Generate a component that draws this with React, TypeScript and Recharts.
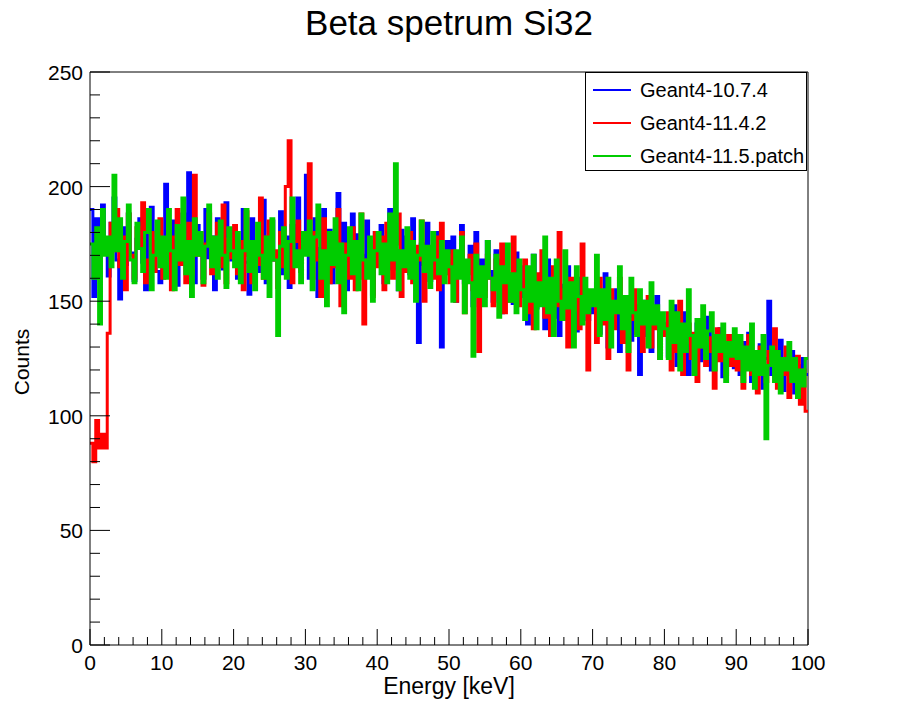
import { LineChart, Line, XAxis, YAxis, ReferenceLine } from 'recharts';

// 250 bins of 0.4 keV between 0 and 100 keV
const BIN_WIDTH = 0.4;

const SERIES_NAMES = ['Geant4-10.7.4', 'Geant4-11.4.2', 'Geant4-11.5.patch'];
const SERIES_COLORS = ['#0000ff', '#ff0000', '#00cc00'];

const X_TICKS = [0, 2, 4, 6, 8, 10, 12, 14, 16, 18, 20, 22, 24, 26, 28, 30, 32, 34, 36, 38, 40, 42, 44, 46, 48, 50, 52, 54, 56, 58, 60, 62, 64, 66, 68, 70, 72, 74, 76, 78, 80, 82, 84, 86, 88, 90, 92, 94, 96, 98, 100];
const Y_TICKS = [0, 10, 20, 30, 40, 50, 60, 70, 80, 90, 100, 110, 120, 130, 140, 150, 160, 170, 180, 190, 200, 210, 220, 230, 240, 250];

const blueCounts = [
  190, 152, 186, 174, 192, 176, 161, 184, 195, 168, 151, 182, 166, 188, 171, 159, 177, 186, 167, 155, 181, 191, 173, 163, 158,
  176, 201, 162, 170, 185, 157, 179, 188, 166, 206, 172, 158, 183, 174, 160, 190, 169, 178, 155, 186, 171, 164, 193, 177, 168,
  182, 160, 175, 190, 167, 153, 186, 172, 163, 179, 194, 158, 176, 185, 168, 171, 189, 162, 178, 156, 183, 170, 195, 165, 174,
  205, 160, 178, 186, 152, 173, 190, 166, 181, 158, 176, 197, 169, 184, 155, 172, 188, 163, 179, 170, 160, 185, 174, 153, 180,
  168, 183, 158, 176, 190, 164, 172, 155, 181, 167, 178, 162, 186, 170, 132, 175, 166, 184, 159, 172, 163, 180, 130, 169, 176,
  162, 178, 150, 170, 183, 158, 166, 174, 148, 180, 160, 168, 155, 176, 163, 150, 172, 158, 145, 168, 155, 162, 149, 171, 158,
  152, 165, 140, 158, 170, 147, 155, 162, 138, 168, 150, 143, 160, 135, 157, 148, 165, 141, 153, 137, 160, 146, 155, 142, 150,
  145, 158, 136, 149, 162, 130, 147, 140, 155, 128, 146, 138, 152, 133, 148, 142, 118, 150, 135, 144, 128, 141, 152, 130, 137,
  140, 126, 135, 148, 122, 138, 130, 145, 118, 133, 127, 140, 124, 136, 129, 143, 120, 132, 126, 138, 117, 130, 124, 135, 121,
  128, 118, 132, 122, 136, 115, 126, 120, 131, 112, 125, 150, 118, 127, 122, 133, 111, 124, 119, 128, 110, 122, 116, 125, 118,
];

const redCounts = [
  88, 80, 98, 86, 92, 86, 136, 184, 172, 190, 165, 178, 155, 188, 170, 160, 182, 174, 193, 158, 168, 180, 163, 176, 186,
  160, 172, 185, 155, 178, 190, 166, 174, 158, 184, 162, 205, 170, 180, 157, 175, 188, 162, 171, 184, 165, 192, 158, 177, 169,
  183, 162, 176, 155, 189, 170, 158, 174, 166, 195, 160, 178, 185, 168, 172, 156, 180, 165, 200, 220, 158, 176, 185, 163, 172,
  174, 210, 160, 180, 168, 152, 186, 172, 158, 178, 165, 190, 148, 175, 170, 160, 182, 155, 171, 188, 140, 168, 176, 152, 180,
  165, 178, 155, 184, 170, 160, 175, 188, 152, 170, 163, 180, 158, 174, 168, 185, 150, 172, 165, 160, 178, 155, 184, 162, 170,
  158, 172, 150, 166, 180, 145, 162, 170, 155, 175, 128, 164, 152, 170, 160, 148, 168, 156, 175, 145, 162, 150, 178, 158, 148,
  155, 168, 145, 160, 138, 162, 150, 172, 143, 158, 135, 165, 148, 180, 142, 155, 130, 160, 146, 152, 138, 175, 145, 120, 152,
  150, 132, 160, 140, 148, 125, 155, 138, 145, 160, 132, 150, 120, 142, 155, 136, 148, 128, 140, 152, 130, 145, 138, 125, 140,
  135, 145, 120, 138, 128, 150, 118, 132, 140, 125, 136, 115, 130, 142, 122, 134, 128, 112, 138, 124, 130, 118, 135, 122, 128,
  120, 132, 112, 126, 135, 118, 124, 110, 130, 120, 115, 128, 122, 138, 112, 125, 118, 130, 108, 122, 115, 126, 105, 120, 102,
];

const greenCounts = [
  175, 160, 182, 140, 190, 170, 178, 165, 205, 172, 186, 160, 176, 192, 168, 158, 184, 173, 163, 180, 190, 155, 170, 185, 165,
  178, 160, 190, 172, 155, 183, 168, 195, 162, 176, 152, 186, 170, 180, 158, 174, 192, 165, 178, 160, 185, 170, 156, 182, 172,
  165, 180, 158, 172, 190, 163, 176, 155, 184, 170, 160, 178, 152, 186, 168, 135, 174, 182, 160, 176, 195, 165, 172, 158, 180,
  170, 185, 155, 178, 192, 160, 172, 148, 180, 166, 186, 158, 175, 145, 170, 182, 162, 176, 155, 188, 168, 160, 178, 150, 172,
  180, 162, 175, 158, 188, 168, 210, 155, 172, 165, 182, 160, 176, 150, 170, 185, 163, 174, 156, 180, 168, 162, 176, 158, 172,
  165, 150, 172, 160, 178, 145, 168, 158, 126, 170, 152, 165, 148, 176, 160, 155, 170, 143, 165, 158, 175, 150, 162, 145, 168,
  155, 142, 165, 150, 170, 138, 158, 148, 178, 145, 160, 135, 168, 150, 142, 172, 147, 158, 130, 165, 152, 140, 160, 145, 155,
  148, 170, 135, 155, 142, 160, 130, 150, 145, 165, 138, 152, 128, 160, 145, 135, 155, 140, 150, 130, 158, 140, 148, 125, 145,
  138, 125, 150, 132, 145, 120, 140, 128, 155, 135, 118, 142, 130, 148, 125, 137, 145, 120, 135, 128, 140, 115, 132, 126, 138,
  125, 135, 115, 130, 120, 140, 112, 128, 118, 135, 90, 122, 130, 115, 128, 110, 125, 120, 132, 115, 125, 108, 120, 113, 125,
];

// histogram points at bin low edges; the last point closes the final bin at 100 keV
const seriesCounts = [blueCounts, redCounts, greenCounts];
const data = blueCounts.map((_, i) => ({
  e: i * BIN_WIDTH,
  s0: blueCounts[i],
  s1: redCounts[i],
  s2: greenCounts[i],
}));
data.push({
  e: blueCounts.length * BIN_WIDTH,
  s0: blueCounts[blueCounts.length - 1],
  s1: redCounts[redCounts.length - 1],
  s2: greenCounts[greenCounts.length - 1],
});

const FONT = '"Liberation Sans", Arial, Helvetica, sans-serif';

function XTick(props: any) {
  const { x, y, payload } = props;
  const major = payload.value % 10 === 0;
  return (
    <g>
      <line x1={x} x2={x} y1={y} y2={y - (major ? 16 : 8)} stroke="#000" strokeWidth={1} />
      {major && (
        <text x={x} y={y + 25} textAnchor="middle" fontSize={21} fontFamily={FONT} fill="#000">
          {payload.value}
        </text>
      )}
    </g>
  );
}

function YTick(props: any) {
  const { x, y, payload } = props;
  const major = payload.value % 50 === 0;
  return (
    <g>
      <line x1={x} x2={x + (major ? 20 : 10)} y1={y} y2={y} stroke="#000" strokeWidth={1} />
      {major && (
        <text x={x - 7} y={y + 8} textAnchor="end" fontSize={21} fontFamily={FONT} fill="#000">
          {payload.value}
        </text>
      )}
    </g>
  );
}

export default function App() {
  return (
    <div style={{ position: 'relative', width: 898, height: 718, background: '#fff', fontFamily: FONT }}>
      <style>{'body{margin:0}'}</style>
      <div style={{ position: 'absolute', top: 3, left: 0, width: 898, textAlign: 'center', fontSize: 35 }}>
        Beta spetrum Si32
      </div>
      <LineChart width={898} height={718} data={data} margin={{ top: 72, right: 90, bottom: 0, left: 0 }}>
        <XAxis
          dataKey="e"
          type="number"
          domain={[0, 100]}
          ticks={X_TICKS}
          interval={0}
          tick={<XTick />}
          tickLine={false}
          tickSize={0}
          tickMargin={0}
          height={73}
          axisLine={{ stroke: '#000' }}
          allowDataOverflow
        />
        <YAxis
          type="number"
          domain={[0, 250]}
          ticks={Y_TICKS}
          interval={0}
          tick={<YTick />}
          tickLine={false}
          tickSize={0}
          tickMargin={0}
          width={90}
          axisLine={{ stroke: '#000' }}
          allowDataOverflow
        />
        <ReferenceLine y={250} stroke="#000" strokeWidth={1} />
        <ReferenceLine x={100} stroke="#000" strokeWidth={1} />
        {seriesCounts.map((_, k) => (
          <Line
            key={k}
            dataKey={'s' + k}
            type="stepAfter"
            stroke={SERIES_COLORS[k]}
            strokeWidth={3}
            dot={false}
            isAnimationActive={false}
          />
        ))}
      </LineChart>
      <div
        style={{
          position: 'absolute',
          left: 12,
          top: 362,
          transform: 'translate(-50%, -50%) rotate(-90deg)',
          transformOrigin: 'center',
          fontSize: 21,
          whiteSpace: 'nowrap',
          marginLeft: 10,
        }}
      >
        Counts
      </div>
      <div style={{ position: 'absolute', left: 0, top: 673, width: 898, textAlign: 'center', fontSize: 23, lineHeight: '26px' }}>
        Energy [keV]
      </div>
      <div
        style={{
          position: 'absolute',
          left: 585,
          top: 72,
          width: 222,
          height: 99,
          border: '1px solid #000',
          background: '#fff',
          boxSizing: 'border-box',
        }}
      >
        {SERIES_NAMES.map((name, k) => (
          <div key={name} style={{ position: 'absolute', left: 7, top: 5 + k * 33, height: 24, display: 'flex', alignItems: 'center' }}>
            <div style={{ width: 38, height: 2, background: SERIES_COLORS[k] }} />
            <span style={{ marginLeft: 9, fontSize: 20 }}>{name}</span>
          </div>
        ))}
      </div>
    </div>
  );
}
